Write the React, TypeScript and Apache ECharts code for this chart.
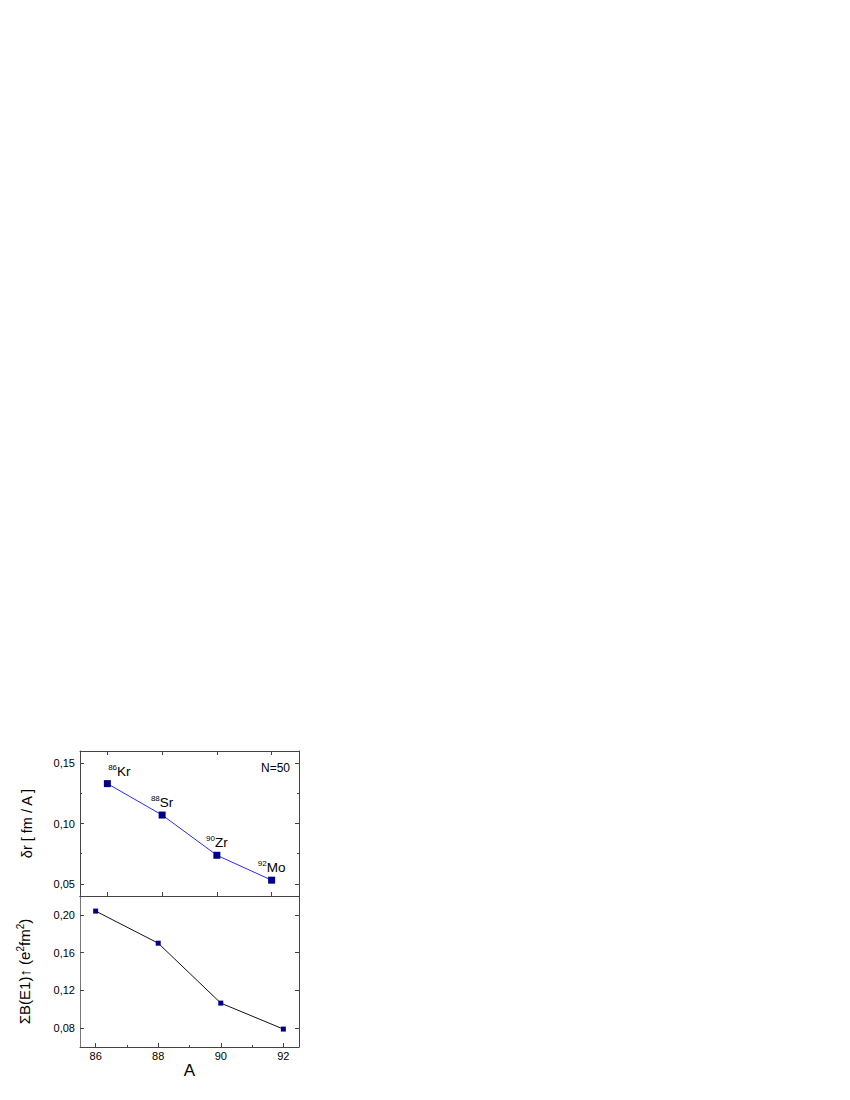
import React, { useEffect, useRef } from "react";
import * as echarts from "echarts";

// Top panel: N=50 isotones
const topA = [86, 88, 90, 92];
const nuclei = ["Kr", "Sr", "Zr", "Mo"];
const deltaR = [0.133, 0.107, 0.0737, 0.0531];

// Bottom panel
const bottomA = [86, 88, 90, 92];
const sumBE1 = [0.204, 0.170, 0.1065, 0.079];

// Tick values
const xMajor = [86, 88, 90, 92];
const xMinor = [87, 89, 91];
const topYMajor = [0.05, 0.1, 0.15];
const topYMinor = [0.075, 0.125];
const botYMajor = [0.08, 0.12, 0.16, 0.2];

const FONT = "'Liberation Sans', Arial, sans-serif";
const AX = "#444";
const fmt = (v: number) => v.toFixed(2).replace(".", ",");

function tickAxis(base: any, values: number[], len: number, showLine: boolean) {
  return {
    type: "value",
    ...base,
    axisLine: { show: showLine, onZero: false, lineStyle: { color: AX, width: 1 } },
    axisTick: { show: true, inside: true, length: len, customValues: values, lineStyle: { color: AX, width: 1 } },
    axisLabel: { show: false },
    splitLine: { show: false },
  };
}

export default function App() {
  const ref = useRef<HTMLDivElement>(null);
  useEffect(() => {
    if (!ref.current) return;
    const chart = echarts.init(ref.current, null, { renderer: "svg" });
    const labelOffsets: number[][] = [[12, 0], [0, 0], [0, 0], [0, 0]];
    const option: any = {
      animation: false,
      textStyle: { fontFamily: FONT },
      grid: [
        { left: 80, top: 751, width: 219, height: 145 },
        { left: 80, top: 896, width: 219, height: 151 },
      ],
      xAxis: [
        tickAxis({ gridIndex: 0, position: "bottom", min: 85, max: 93 }, xMajor, 4, true),
        tickAxis({ gridIndex: 0, position: "top", min: 85, max: 93 }, xMajor, 4, true),
        {
          type: "value",
          gridIndex: 1,
          position: "bottom",
          min: 85.5,
          max: 92.5,
          name: "A",
          nameLocation: "middle",
          nameGap: 12,
          nameTextStyle: { fontSize: 17, color: "#000", fontFamily: FONT, verticalAlign: "top" },
          axisLine: { show: true, onZero: false, lineStyle: { color: AX, width: 1 } },
          axisTick: { show: true, inside: true, length: 4, customValues: xMajor, lineStyle: { color: AX } },
          axisLabel: { show: true, customValues: xMajor, fontSize: 11, color: "#000", margin: 3, fontFamily: FONT },
          splitLine: { show: false },
        },
        tickAxis({ gridIndex: 1, position: "bottom", min: 85.5, max: 92.5 }, xMinor, 2, false),
        tickAxis({ gridIndex: 1, position: "top", min: 85.5, max: 92.5 }, [], 0, true),
      ],
      yAxis: [
        {
          type: "value",
          gridIndex: 0,
          position: "left",
          min: 0.04,
          max: 0.16,
          name: "δr [ fm / A ]",
          nameLocation: "middle",
          nameGap: 46,
          nameTextStyle: { fontSize: 14.5, color: "#000", fontFamily: FONT },
          axisLine: { show: true, onZero: false, lineStyle: { color: AX, width: 1 } },
          axisTick: { show: true, inside: true, length: 4, customValues: topYMajor, lineStyle: { color: AX } },
          axisLabel: { show: true, customValues: topYMajor, fontSize: 11, color: "#000", margin: 5, formatter: fmt, fontFamily: FONT },
          splitLine: { show: false },
        },
        tickAxis({ gridIndex: 0, position: "left", min: 0.04, max: 0.16 }, topYMinor, 2, false),
        tickAxis({ gridIndex: 0, position: "right", min: 0.04, max: 0.16 }, topYMajor, 4, true),
        tickAxis({ gridIndex: 0, position: "right", min: 0.04, max: 0.16 }, topYMinor, 2, false),
        {
          type: "value",
          gridIndex: 1,
          position: "left",
          min: 0.06,
          max: 0.22,
          name: "{m|ΣB(E1)↑ (e}{s|2}{m|fm}{s|2}{m|)}",
          nameLocation: "middle",
          nameGap: 47,
          nameTextStyle: {
            fontSize: 15,
            color: "#000",
            fontFamily: FONT,
            rich: {
              m: { fontSize: 15, lineHeight: 18, color: "#000", fontFamily: FONT },
              s: { fontSize: 10, lineHeight: 11, verticalAlign: "top", color: "#000", fontFamily: FONT },
            },
          },
          axisLine: { show: true, onZero: false, lineStyle: { color: "#777", width: 1 } },
          axisTick: { show: true, inside: true, length: 4, customValues: botYMajor, lineStyle: { color: AX } },
          axisLabel: { show: true, customValues: botYMajor, fontSize: 11, color: "#000", margin: 5, formatter: fmt, fontFamily: FONT },
          splitLine: { show: false },
        },
        tickAxis({ gridIndex: 1, position: "right", min: 0.06, max: 0.22 }, botYMajor, 4, true),
      ],
      series: [
        {
          type: "line",
          xAxisIndex: 0,
          yAxisIndex: 0,
          data: topA.map((a, i) => ({
            value: [a, deltaR[i]],
            label: { offset: labelOffsets[i] },
          })),
          lineStyle: { color: "#2a2aff", width: 1 },
          symbol: "rect",
          symbolSize: 7,
          itemStyle: { color: "#00008b" },
          label: {
            show: true,
            position: "top",
            distance: 1,
            formatter: (p: any) => `{s|${topA[p.dataIndex]}}{m|${nuclei[p.dataIndex]}}`,
            rich: {
              m: { fontSize: 13.5, lineHeight: 16, color: "#000", fontFamily: FONT },
              s: { fontSize: 8, lineHeight: 10, verticalAlign: "top", color: "#000", fontFamily: FONT },
            },
          },
        },
        {
          type: "line",
          xAxisIndex: 2,
          yAxisIndex: 4,
          data: bottomA.map((a, i) => [a, sumBE1[i]]),
          lineStyle: { color: "#111", width: 1 },
          symbol: "rect",
          symbolSize: 5,
          itemStyle: { color: "#00008b" },
        },
      ],
      graphic: [
        {
          type: "text",
          x: 290,
          y: 768,
          style: {
            text: "N=50",
            fontSize: 12,
            fill: "#000",
            fontFamily: FONT,
            align: "right",
            verticalAlign: "middle",
          },
        },
      ],
    };
    chart.setOption(option);
    return () => chart.dispose();
  }, []);
  return (
    <div
      ref={ref}
      style={{ position: "absolute", left: 0, top: 0, width: 850, height: 1100 }}
    />
  );
}
